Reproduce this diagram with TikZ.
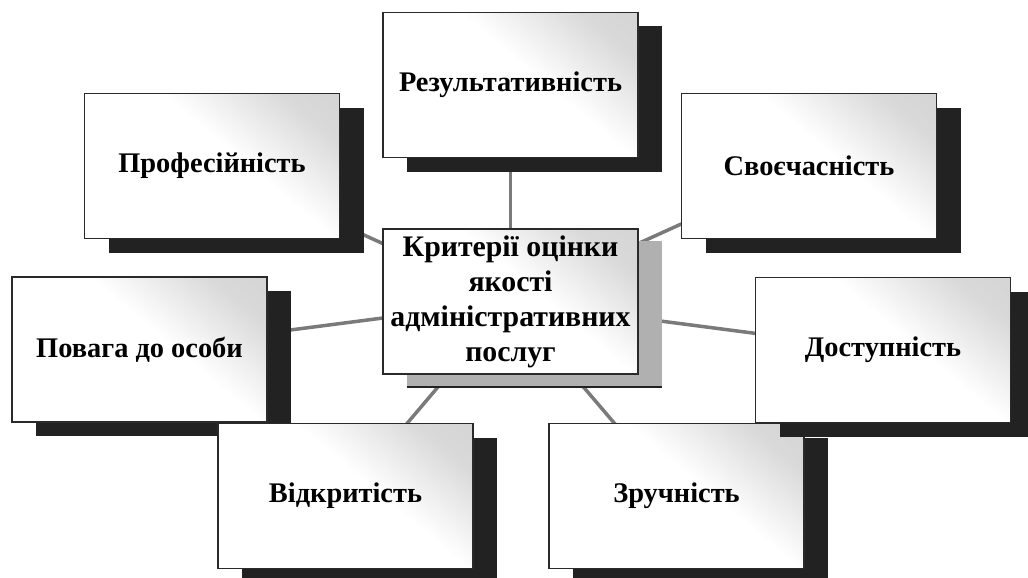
\documentclass[tikz,border=0pt]{standalone}
\usepackage{fontspec}
\setmainfont{Liberation Serif}
\usetikzlibrary{shadows,backgrounds}
\pgfdeclarehorizontalshading{boxshade}{100bp}{color(0bp)=(white); color(56bp)=(white); color(76bp)=(black!15); color(100bp)=(black!19)}
\definecolor{shadowdark}{HTML}{222222}
\definecolor{shadowlight}{HTML}{B0B0B0}
\definecolor{linkgray}{HTML}{7A7A7A}
\definecolor{framec}{HTML}{2A2A2A}
\begin{document}
\begin{tikzpicture}[x=1pt,y=-1pt,
  crit/.style={draw=framec, line width=1.3pt, shading=boxshade, shading angle=50,
    minimum width=255pt, minimum height=145pt, inner sep=0pt,
    font=\fontsize{28.4}{32}\selectfont\bfseries, text=black,
    general shadow={fill=shadowdark, shadow xshift=24pt, shadow yshift=-14pt}},
  core/.style={crit, font=\fontsize{29.8}{35}\selectfont\bfseries, align=center,
    general shadow={fill=shadowlight, shadow xshift=24pt, shadow yshift=-12pt}},
  link/.style={draw=linkgray, line width=3.5pt}]
\useasboundingbox (0,0) rectangle (1028,578);
\node[crit] (res) at (510.5,85) {Результативність};
\node[crit] (prof) at (212,166) {Професійність};
\node[crit] (svo) at (809,166) {Своєчасність};
\node[crit] (pov) at (139.5,349.5) {Повага до особи};
\node[crit] (vid) at (345.5,496) {Відкритість};
\node[crit] (zru) at (676.5,496) {Зручність};
\node[crit] (dos) at (883,350) {Доступність};
\node[core] (c) at (510.5,301.5) {Критерії оцінки\\якості\\адміністративних\\послуг};
\begin{scope}[on background layer]
\draw[link] (c.center) -- (res.center);
\draw[link] (c.center) -- (prof.center);
\draw[link] (c.center) -- (svo.center);
\draw[link] (c.center) -- (pov.center);
\draw[link] (c.center) -- (vid.center);
\draw[link] (c.center) -- (zru.center);
\draw[link] (c.center) -- (dos.center);
\end{scope}
\end{tikzpicture}
\end{document}
